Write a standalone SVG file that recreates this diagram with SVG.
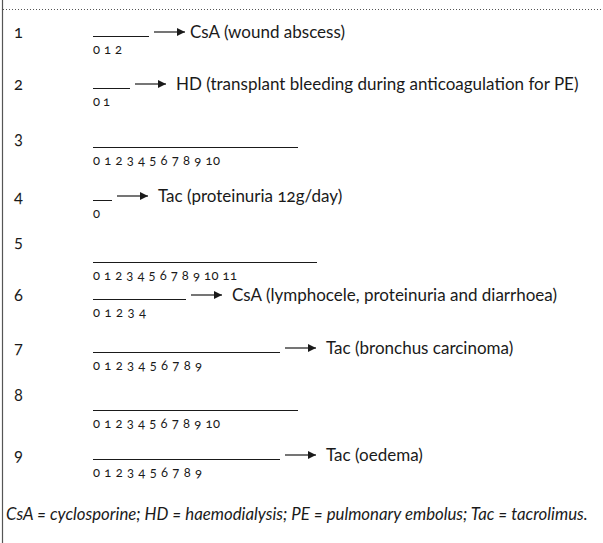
<svg xmlns="http://www.w3.org/2000/svg" width="603" height="543" viewBox="0 0 603 543">
<style>
  text { font-family: Lato, "Open Sans", "Liberation Sans", sans-serif; fill: #1a1a1a; font-variant-numeric: oldstyle-nums; }
  .num { font-size: 16.5px; }
  .lab { font-size: 17px; }
  .tick { font-size: 13px; }
  .bar { stroke: #1a1a1a; stroke-width: 1; fill: none; }
  .arr { stroke: #1a1a1a; stroke-width: 1.2; fill: none; marker-end: url(#ah); }
  .foot { font-size: 16.8px; font-style: italic; }
</style>
<defs>
  <marker id="ah" viewBox="0 0 10 10" refX="10" refY="5" markerWidth="11" markerHeight="8" markerUnits="userSpaceOnUse" orient="auto">
    <path d="M0,0 L10,5 L0,10 z" fill="#1a1a1a"/>
  </marker>
</defs>
<rect width="603" height="543" fill="#ffffff"/>
<line x1="2.5" y1="0" x2="2.5" y2="543" stroke="#555" stroke-width="1.2"/>
<line x1="3" y1="9.5" x2="603" y2="9.5" stroke="#555" stroke-width="1" stroke-dasharray="1 2"/>

<g id="row1">
  <text class="num" x="14" y="38">1</text>
  <line class="bar" x1="93" y1="36.5" x2="149" y2="36.5"/>
  <text class="tick" x="93" y="54" textLength="29">0 1 2</text>
  <text class="lab" x="190" y="38">CsA (wound abscess)</text>
</g>
<g id="row2">
  <text class="num" x="14" y="90">2</text>
  <line class="bar" x1="93" y1="88.5" x2="130" y2="88.5"/>
  <text class="tick" x="93" y="106" textLength="17">0 1</text>
  <text class="lab" x="176" y="90">HD (transplant bleeding during anticoagulation for PE)</text>
</g>
<g id="row3">
  <text class="num" x="14" y="144">3</text>
  <line class="bar" x1="93" y1="147.5" x2="298" y2="147.5"/>
  <text class="tick" x="93" y="165" textLength="127">0 1 2 3 4 5 6 7 8 9 10</text>
</g>
<g id="row4">
  <text class="num" x="14" y="202">4</text>
  <line class="bar" x1="93" y1="200.5" x2="112" y2="200.5"/>
  <text class="tick" x="93" y="218">0</text>
  <text class="lab" x="158" y="202">Tac (proteinuria 12g/day)</text>
</g>
<g id="row5">
  <text class="num" x="14" y="247">5</text>
  <line class="bar" x1="93" y1="262.5" x2="317" y2="262.5"/>
  <text class="tick" x="93" y="280" textLength="144">0 1 2 3 4 5 6 7 8 9 10 11</text>
</g>
<g id="row6">
  <text class="num" x="14" y="301">6</text>
  <line class="bar" x1="93" y1="299.5" x2="186" y2="299.5"/>
  <text class="tick" x="93" y="317" textLength="53">0 1 2 3 4</text>
  <text class="lab" x="232" y="301">CsA (lymphocele, proteinuria and diarrhoea)</text>
</g>
<g id="row7">
  <text class="num" x="14" y="354">7</text>
  <line class="bar" x1="93" y1="352.5" x2="280" y2="352.5"/>
  <text class="tick" x="93" y="370" textLength="109">0 1 2 3 4 5 6 7 8 9</text>
  <text class="lab" x="326" y="354">Tac (bronchus carcinoma)</text>
</g>
<g id="row8">
  <text class="num" x="14" y="401">8</text>
  <line class="bar" x1="93" y1="410.5" x2="298" y2="410.5"/>
  <text class="tick" x="93" y="428" textLength="127">0 1 2 3 4 5 6 7 8 9 10</text>
</g>
<g id="row9">
  <text class="num" x="14" y="461">9</text>
  <line class="bar" x1="93" y1="459.5" x2="280" y2="459.5"/>
  <text class="tick" x="93" y="477" textLength="109">0 1 2 3 4 5 6 7 8 9</text>
  <text class="lab" x="326" y="461">Tac (oedema)</text>
</g>

<g id="connectors">
  <line class="arr" x1="154" y1="32" x2="185" y2="32"/>
  <line class="arr" x1="135" y1="84" x2="166" y2="84"/>
  <line class="arr" x1="117" y1="196" x2="148" y2="196"/>
  <line class="arr" x1="191" y1="295" x2="222" y2="295"/>
  <line class="arr" x1="285" y1="348" x2="316" y2="348"/>
  <line class="arr" x1="285" y1="455" x2="316" y2="455"/>
</g>

<g id="legend">
  <text class="foot" x="6" y="520">CsA = cyclosporine; HD = haemodialysis; PE = pulmonary embolus; Tac = tacrolimus.</text>
</g>
</svg>
